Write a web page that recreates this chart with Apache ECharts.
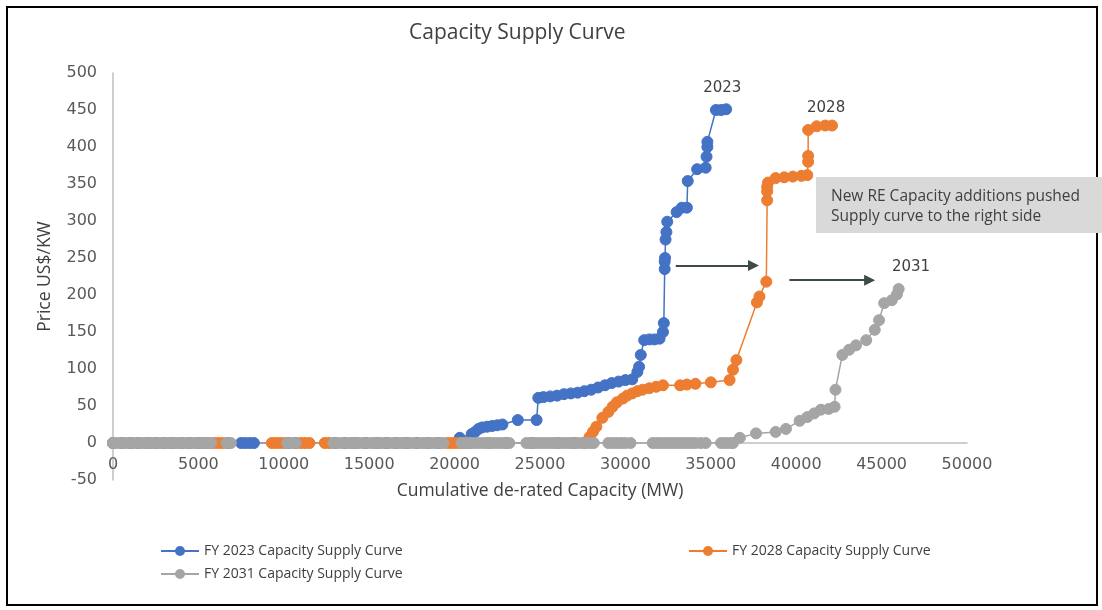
<!DOCTYPE html>
<html>
<head>
<meta charset="utf-8">
<title>Capacity Supply Curve</title>
<script src="https://cdn.jsdelivr.net/npm/echarts@6/dist/echarts.min.js"></script>
<style>
  html, body { margin: 0; padding: 0; background: #fff; }
  #chart { width: 1102px; height: 610px; }
</style>
</head>
<body>
<div id="chart"></div>
<script>
// Cumulative de-rated capacity (MW) vs. price (US$/kW), one point per unit
const fy2023 = [
  [0,0],[500,0],[1000,0],[1500,0],[2000,0],[2500,0],[3000,0],[3500,0],[4000,0],[4500,0],
  [5000,0],[5500,0],[6700,0],[7500,0],[7750,0],[8000,0],[8250,0],[10300,0],[10700,0],[13000,0],[13600,0],
  [14200,0],[14800,0],[15400,0],[16000,0],[16600,0],[17200,0],[17800,0],[18400,0],[19000,0],
  [20300,7],[21000,12],[21200,15],[21400,19],[21600,21],[21900,22],[22200,23],[22500,24],[22800,25],
  [23700,31],[24800,31],[24900,61],[25200,62],[25600,63],[26000,64],[26400,66],[26800,67],[27200,68],
  [27600,70],[28000,72],[28400,75],[28800,78],[29200,81],[29600,83],[30000,85],[30400,86],
  [30700,96],[30800,103],[30900,119],[31100,139],[31400,140],[31700,140],[32000,141],
  [32200,150],[32250,162],[32300,235],[32300,245],[32320,250],[32350,275],[32400,285],[32450,299],
  [33000,312],[33300,318],[33600,318],[33650,354],[34200,370],[34700,372],[34750,387],[34800,400],
  [34800,407],[35300,450],[35600,450],[35900,451]
];

const fy2028 = [
  [0,0],[1100,0],[2200,0],[3300,0],[4400,0],[5200,0],[5900,0],[6150,0],[6400,0],[9300,0],[9550,0],
  [9800,0],[10050,0],[11000,0],[11250,0],[11500,0],[12400,0],[12650,0],[14000,0],[15500,0],[17000,0],
  [18500,0],[19600,0],[19850,0],[20100,0],[20350,0],[20600,0],[20900,0],[22000,0],[23000,0],
  [24500,0],[26000,0],[27000,0],[27600,0],
  [27900,8],[28100,15],[28300,22],[28650,34],[29000,42],[29250,49],[29500,55],[29850,60],[30100,64],
  [30400,67],[30700,70],[31000,72],[31400,74],[31800,76],[32200,78],[33200,78],[33600,79],[34100,80],
  [35000,82],[36100,85],[36300,99],[36500,112],[37700,190],[37850,198],[38250,218],[38300,328],
  [38300,340],[38300,346],[38350,352],[38800,358],[39300,359],[39800,360],[40300,361],[40650,362],
  [40700,380],[40700,388],[40700,423],[41200,428],[41700,429],[42100,429]
];

const fy2031 = [
  [0,0],[250,0],[500,0],[750,0],[1000,0],[1250,0],[1500,0],[1750,0],[2000,0],[2250,0],
  [2500,0],[2750,0],[3000,0],[3250,0],[3500,0],[3750,0],[4000,0],[4250,0],[4500,0],[4750,0],
  [5000,0],[5250,0],[5500,0],[5750,0],[6650,0],[6900,0],[10200,0],[10450,0],[10700,0],
  [12900,0],[13150,0],[13400,0],[13650,0],[13900,0],[14150,0],[14400,0],[14650,0],[14900,0],
  [15150,0],[15400,0],[15650,0],[15900,0],[16150,0],[16400,0],[16650,0],[16900,0],[17150,0],
  [17400,0],[17650,0],[17900,0],[18150,0],[18400,0],[18650,0],[18900,0],[19150,0],[19350,0],
  [20400,0],[20650,0],[20900,0],[21150,0],[21400,0],[21650,0],[21900,0],[22150,0],[22400,0],
  [22650,0],[22900,0],[23200,0],
  [24200,0],[24450,0],[24700,0],[24950,0],[25200,0],[25450,0],[25700,0],[25950,0],[26200,0],
  [26450,0],[26700,0],[26950,0],[27200,0],[27450,0],[27700,0],[27950,0],[28150,0],
  [29000,0],[29250,0],[29500,0],[29750,0],[30000,0],[30300,0],
  [31600,0],[31850,0],[32100,0],[32350,0],[32600,0],[32850,0],[33100,0],[33350,0],[33600,0],
  [33850,0],[34100,0],[34400,0],[34700,0],[35600,0],[35850,0],[36100,0],[36300,0],
  [36700,7],[37650,13],[38800,15],[39400,19],[40200,30],[40650,35],[41050,40],[41450,45],[41900,46],
  [42250,49],[42300,72],[42700,119],[43100,126],[43500,132],[44100,139],[44600,153],[44850,166],
  [45150,189],[45600,193],[45900,201],[46000,208]
];

const seriesNames = [
  'FY 2023 Capacity Supply Curve',
  'FY 2028 Capacity Supply Curve',
  'FY 2031 Capacity Supply Curve'
];
const yearTags = ['2023', '2028', '2031'];
const annotationLines = ['New RE Capacity additions pushed', 'Supply curve to the right side'];

const chart = echarts.init(document.getElementById('chart'), null, { renderer: 'canvas' });

const axisFont = 'DejaVu Sans';
const textFont = 'Open Sans';
const arrowColor = '#3e4a44';

function tag(text, x, y) {
  return {
    coord: [x, y],
    symbol: 'circle',
    symbolSize: 1,
    itemStyle: { color: 'transparent' },
    label: {
      show: true, position: 'inside', formatter: text,
      fontFamily: axisFont, fontSize: 15, color: '#404040'
    }
  };
}

function lineSeries(name, data, color, extra) {
  return Object.assign({
    name: name,
    type: 'line',
    data: data,
    symbol: 'circle',
    symbolSize: 11,
    showSymbol: true,
    lineStyle: { color: color, width: 1.5 },
    itemStyle: { color: color, borderColor: color, borderWidth: 1 },
    emphasis: { disabled: true }
  }, extra || {});
}

const plainNumber = function (v) { return String(v); };

const option = {
  animation: false,
  backgroundColor: '#ffffff',
  title: {
    text: 'Capacity Supply Curve',
    left: 404, top: 18,
    textStyle: { fontFamily: textFont, fontSize: 21, fontWeight: 'normal', color: '#404040' }
  },
  grid: { left: 113, right: 135, top: 73, bottom: 130, containLabel: false },
  xAxis: {
    type: 'value', min: 0, max: 50000, interval: 5000,
    name: 'Cumulative de-rated Capacity (MW)',
    nameLocation: 'middle', nameGap: 2,
    nameTextStyle: { fontFamily: textFont, fontSize: 17.5, color: '#404040', verticalAlign: 'top' },
    axisLine: { onZero: true, lineStyle: { color: '#bfbfbf', width: 1.5 } },
    axisTick: { show: false },
    splitLine: { show: false },
    axisLabel: { margin: -23, formatter: plainNumber, fontFamily: axisFont, fontSize: 16, color: '#595959' }
  },
  yAxis: {
    type: 'value', min: -50, max: 500, interval: 50,
    name: 'Price US$/KW',
    nameLocation: 'middle', nameGap: 59,
    nameTextStyle: { fontFamily: textFont, fontSize: 17.5, color: '#404040' },
    axisLine: { show: true, onZero: false, lineStyle: { color: '#bfbfbf', width: 1.5 } },
    axisTick: { show: false },
    splitLine: { show: false },
    axisLabel: { margin: 16, formatter: plainNumber, fontFamily: axisFont, fontSize: 16, color: '#595959' }
  },
  legend: [
    { data: [seriesNames[0]], left: 160, top: 544 },
    { data: [seriesNames[1]], left: 688, top: 544 },
    { data: [seriesNames[2]], left: 160, top: 567 }
  ].map(function (l) {
    return Object.assign({
      padding: 0, itemWidth: 38, itemHeight: 10, itemGap: 10,
      selectedMode: false,
      textStyle: { fontFamily: textFont, fontSize: 14, color: '#404040' }
    }, l);
  }),
  series: [
    lineSeries(seriesNames[0], fy2023, '#4472C4', {
      markPoint: { silent: true, data: [tag(yearTags[0], 35670, 480)] },
      markLine: {
        silent: true, symbol: ['none', 'triangle'], symbolSize: 11,
        lineStyle: { color: arrowColor, width: 2, type: 'solid' },
        label: { show: false },
        data: [
          [{ coord: [32950, 240] }, { coord: [37500, 240] }],
          [{ coord: [39600, 220] }, { coord: [44300, 220] }]
        ]
      }
    }),
    lineSeries(seriesNames[1], fy2028, '#ED7D31', {
      markPoint: { silent: true, data: [tag(yearTags[1], 41750, 453)] }
    }),
    lineSeries(seriesNames[2], fy2031, '#A5A5A5', {
      markPoint: { silent: true, data: [tag(yearTags[2], 46720, 238)] }
    })
  ],
  graphic: [
    {
      type: 'rect', silent: true, z: 100,
      shape: { x: 7, y: 7, width: 1090, height: 598 },
      style: { fill: 'none', stroke: '#000000', lineWidth: 2 }
    },
    {
      type: 'rect', silent: true, z: 101,
      shape: { x: 816, y: 177, width: 286, height: 56 },
      style: { fill: '#d9d9d9' }
    },
    {
      type: 'text', silent: true, z: 102,
      left: 831, top: 187,
      style: {
        text: annotationLines.join('\n'),
        font: '15.5px "Open Sans"', lineHeight: 20, fill: '#404040'
      }
    }
  ]
};

chart.setOption(option);
</script>
</body>
</html>
